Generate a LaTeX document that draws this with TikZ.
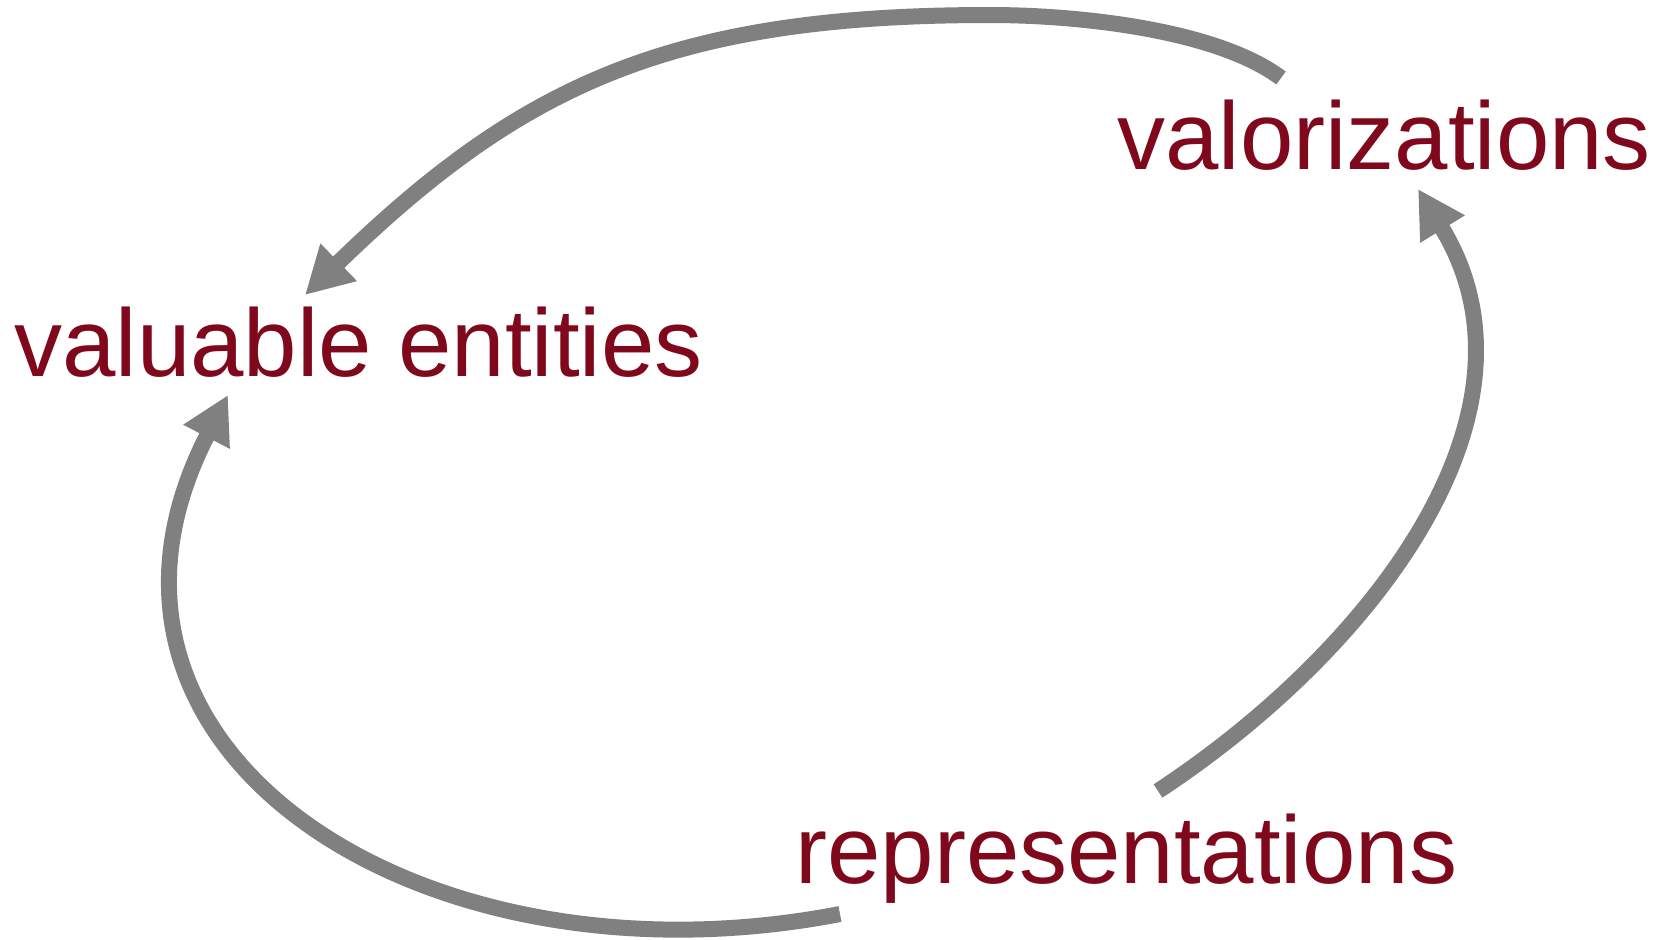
\documentclass[tikz,border=0pt]{standalone}
\usepackage{fontspec}
\setmainfont{Liberation Sans}
\usepackage{tikz}
\usetikzlibrary{arrows.meta,positioning,calc}
\definecolor{termred}{RGB}{128,8,28}
\definecolor{flowgray}{RGB}{128,128,128}

\begin{document}
\begin{tikzpicture}[x=0.5pt,y=-0.5pt,
    term/.style={inner sep=0pt, anchor=base west, text=termred, font=\fontsize{48}{52}\selectfont},
    flow/.style={draw=flowgray, line width=8pt, -{Triangle[length=23.5pt,width=24.5pt]}, flowgray}]
    \useasboundingbox (0,0) rectangle (1669,939);

    %coordinates
    \coordinate (E0) at (14,376);
    \coordinate (V0) at (1117,169);
    \coordinate (R0) at (795,883);

    \coordinate (vstart) at (1281,78);
    \coordinate (vtop)   at (990,15);
    \coordinate (etip)   at (305,295);
    \coordinate (rstart) at (840,914);
    \coordinate (etip2)  at (228,395);
    \coordinate (rstart2) at (1158,791);
    \coordinate (vtip)   at (1418,189);

    %nodes
    \node[term] (E) at (E0) {valuable entities};
    \node[term] (V) at (V0) {valorizations};
    \node[term] (R) at (R0) {representations};

    %edges
    \draw[flow] (vstart) .. controls (1217,30) and (1080,15) .. (vtop)
                         .. controls (670,15) and (521,85) .. (etip);
    \draw[flow] (rstart) .. controls (420,995) and (45,750) .. (etip2);
    \draw[flow] (rstart2) .. controls (1368,653) and (1556,414) .. (vtip);
\end{tikzpicture}
\end{document}
